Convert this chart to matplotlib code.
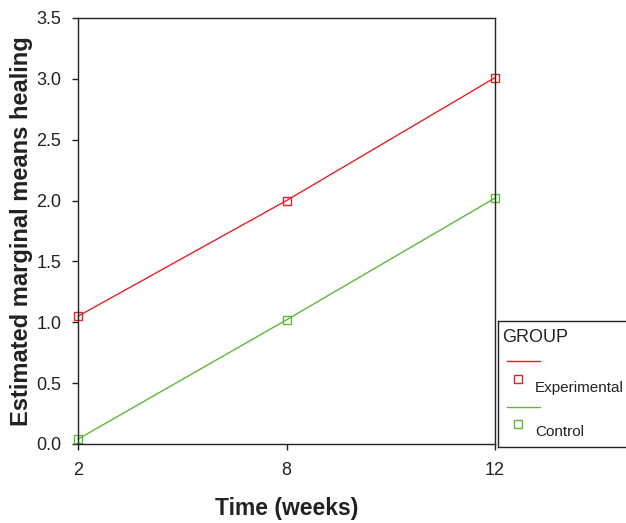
import matplotlib.pyplot as plt
from matplotlib.lines import Line2D

plt.rcParams['font.family'] = ['Liberation Sans', 'DejaVu Sans']

weeks = ['2', '8', '12']
experimental = [1.05, 2.0, 3.01]
control = [0.04, 1.02, 2.02]
red = '#e8202a'
green = '#5cba3a'

fig = plt.figure(figsize=(6.26, 5.23), dpi=100)
ax = fig.add_axes([78/626, 79/523, 417/626, 426/523])
x = range(len(weeks))
ax.plot(x, experimental, color=red, lw=1, marker='s', ms=6, mfc='none', mec=red, mew=1, clip_on=False)
ax.plot(x, control, color=green, lw=1, marker='s', ms=6, mfc='none', mec=green, mew=1, clip_on=False)
ax.set_xlim(0, len(weeks) - 1)
ax.set_ylim(0, 3.5)
ax.set_xticks(list(x))
ax.set_xticklabels(weeks)
ax.set_yticks([0, 0.5, 1, 1.5, 2, 2.5, 3, 3.5])
ax.set_yticklabels(['%.1f' % v for v in [0, 0.5, 1, 1.5, 2, 2.5, 3, 3.5]])
ax.tick_params(labelsize=13, length=4, width=1, color='#222222', labelcolor='#222222')
ax.tick_params(axis='x', pad=9)
ax.tick_params(axis='y', pad=8)
for s in ax.spines.values():
    s.set_linewidth(1)
    s.set_color('#222222')
ax.set_xlabel('Time (weeks)', fontsize=16.5, fontweight='bold', color='#222222')
ax.set_ylabel('Estimated marginal means healing', fontsize=17, fontweight='bold', color='#222222')
ax.xaxis.set_label_coords(0.5, -0.125)
ax.yaxis.set_label_coords(-0.108, 0.5)

# legend box drawn as its own panel, like the original output
lg = fig.add_axes([498/626, 76/523, 140/626, 126/523])
lg.set_xlim(0, 140)
lg.set_ylim(126, 0)
lg.set_xticks([])
lg.set_yticks([])
for s in lg.spines.values():
    s.set_linewidth(1)
    s.set_color('#222222')
lg.text(4, 16, 'GROUP', fontsize=13, va='center', ha='left', color='#222222')
lg.add_line(Line2D([9, 42], [40, 40], color=red, lw=1))
lg.plot([20], [58], marker='s', ms=6, mfc='none', mec=red, mew=1)
lg.text(37, 67, 'Experimental', fontsize=11, va='center', ha='left', color='#222222')
lg.add_line(Line2D([9, 42], [86, 86], color=green, lw=1))
lg.plot([20], [103], marker='s', ms=6, mfc='none', mec=green, mew=1)
lg.text(37, 111, 'Control', fontsize=11, va='center', ha='left', color='#222222')

fig.savefig('out.png', dpi=100)
